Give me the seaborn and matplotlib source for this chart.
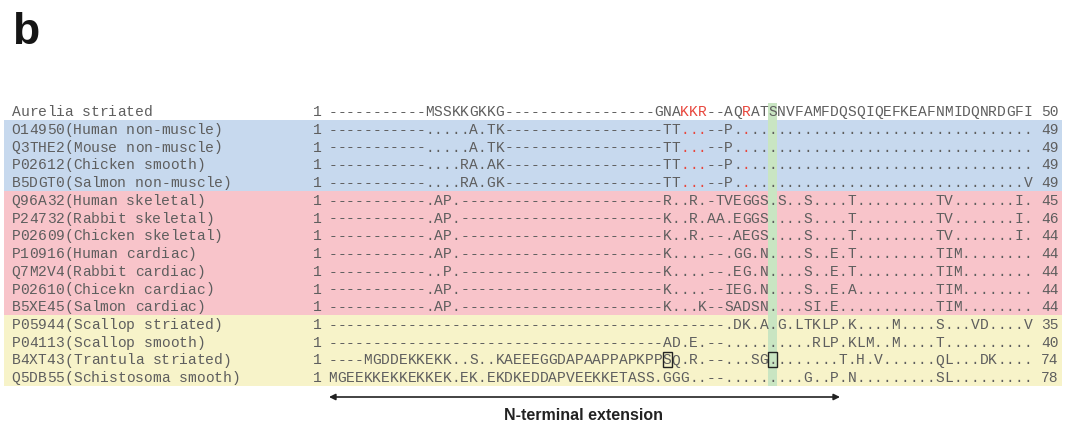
import matplotlib
matplotlib.use("Agg")
import matplotlib.pyplot as plt
import seaborn as sns

# ---------------- data ----------------
names = [
    "Aurelia striated",
    "O14950(Human non-muscle)",
    "Q3THE2(Mouse non-muscle)",
    "P02612(Chicken smooth)",
    "B5DGT0(Salmon non-muscle)",
    "Q96A32(Human skeletal)",
    "P24732(Rabbit skeletal)",
    "P02609(Chicken skeletal)",
    "P10916(Human cardiac)",
    "Q7M2V4(Rabbit cardiac)",
    "P02610(Chicekn cardiac)",
    "B5XE45(Salmon cardiac)",
    "P05944(Scallop striated)",
    "P04113(Scallop smooth)",
    "B4XT43(Trantula striated)",
    "Q5DB55(Schistosoma smooth)",
]

seqs = [
    "-" * 11 + "MSSKKGKKG" + "-" * 17 + "GNAKKR" + "--" + "AQRATSNVFAMFDQSQIQEFKEAFNMIDQNRDGFI",
    "-" * 11 + ".....A.TK" + "-" * 18 + "TT..." + "--" + "P" + "." * 34,
    "-" * 11 + ".....A.TK" + "-" * 18 + "TT..." + "--" + "P" + "." * 34,
    "-" * 11 + "....RA.AK" + "-" * 18 + "TT..." + "--" + "P" + "." * 34,
    "-" * 11 + "....RA.GK" + "-" * 18 + "TT..." + "--" + "P" + "." * 33 + "V",
    "-" * 11 + ".AP." + "-" * 23 + "R..R." + "-TVEGGS" + ".S..S....T.........TV.......I.",
    "-" * 11 + ".AP." + "-" * 23 + "K..R." + "AA.EGGS" + "....S....T.........TV.......I.",
    "-" * 11 + ".AP." + "-" * 23 + "K..R." + "--.AEGS" + "....S....T.........TV.......I.",
    "-" * 11 + ".AP." + "-" * 23 + "K...." + "--.GG.N" + "....S..E.T.........TIM........",
    "-" * 11 + "..P." + "-" * 23 + "K...." + "--.EG.N" + "....S..E.T.........TIM........",
    "-" * 11 + ".AP." + "-" * 23 + "K...." + "--IEG.N" + "....S..E.A.........TIM........",
    "-" * 11 + ".AP." + "-" * 23 + "K...K" + "--SADSN" + "....SI.E...........TIM........",
    "-" * 45 + ".DK.A.G.LTKLP.K....M....S...VD....V",
    "-" * 38 + "AD.E." + "--" + "." * 10 + "RLP.KLM..M" + "....T" + "." * 10,
    "----MGDDEKKEKK..S..KAEEEGGDAPAAPPAPKPPSQ.R.--...SG" + "........T.H.V......QL...DK....",
    "MGEEKKEKKEKKEK.EK.EKDKEDDAPVEEKKETASS.GGG..--" + "......" + "...G..P.N" + "." * 9 + "SL" + "." * 9,
]

start_pos = [1] * 16
end_pos = [50, 49, 49, 49, 49, 45, 46, 44, 44, 44, 44, 44, 35, 40, 74, 78]
groups = ["ref"] + ["nonmuscle"] * 4 + ["vertebrate"] * 7 + ["invertebrate"] * 4

red_rows = [0, 1, 2, 3, 4]
red_cols = [40, 41, 42, 47]
highlight_col = 50
boxed = [(14, 38), (14, 50)]

# ---------------- style ----------------
sns.set_theme(style="white")
plt.rcParams["font.family"] = ["Liberation Mono", "DejaVu Sans Mono"]

band_colors = {"ref": None, "nonmuscle": "#c7d9ee", "vertebrate": "#f8c4ca",
               "invertebrate": "#f7f3c9"}
text_color = "#5e5e5e"
red_color = "#e8463c"
green_color = "#c9e5c2"

W, H = 1077, 428
fig = plt.figure(figsize=(W / 100, H / 100), dpi=100)
ax = fig.add_axes([0, 0, 1, 1])
ax.set_xlim(0, W)
ax.set_ylim(H, 0)
ax.axis("off")

# layout
x0 = 328.3        # left edge of alignment column 0
cw = 8.8          # column width
name_x = 11.5
y0 = 111.0        # centre of first row
rh = 17.75        # row height
fs = 10.56        # pt -> 8.8 px advance for mono font
band_left, band_right = 4, 1062

def ycen(i):
    return y0 + i * rh

# background bands
for i, g in enumerate(groups):
    c = band_colors[g]
    if c:
        ax.add_patch(plt.Rectangle((band_left, ycen(i) - rh / 2), band_right - band_left, rh,
                                   facecolor=c, edgecolor="none", zorder=0))

# highlighted column
ax.add_patch(plt.Rectangle((x0 + highlight_col * cw, ycen(0) - rh / 2 + 0.5), cw,
                           rh * len(seqs) - 0.5, facecolor=green_color, edgecolor="none", zorder=1))

# text
for i, (nm, s) in enumerate(zip(names, seqs)):
    yb = ycen(i) + 5.0
    for k, ch in enumerate(nm):
        ax.text(name_x + (k + 0.5) * cw, yb, ch, ha="center", va="baseline",
                fontsize=fs, color=text_color, zorder=3)
    ax.text(317.5, yb, str(start_pos[i]), ha="center", va="baseline",
            fontsize=fs, color=text_color, zorder=3)
    for c, ch in enumerate(s):
        col = red_color if (i in red_rows and c in red_cols) else text_color
        ax.text(x0 + (c + 0.5) * cw, yb, ch, ha="center", va="baseline",
                fontsize=fs, color=col, zorder=3)
    ax.text(1058.8, yb, str(end_pos[i]), ha="right", va="baseline",
            fontsize=fs, color=text_color, zorder=3)

# boxes
for (r, c) in boxed:
    ax.add_patch(plt.Rectangle((x0 + c * cw, ycen(r) - 7.5), cw, 15,
                               facecolor="none", edgecolor="#222222", linewidth=1.0, zorder=4))

# arrow and label
ax.annotate("", xy=(329, 397), xytext=(840, 397),
            arrowprops=dict(arrowstyle="<|-|>", color="#222222", lw=1.2,
                            mutation_scale=9, shrinkA=0, shrinkB=0))
ax.text(584, 416, "N-terminal extension", ha="center", va="center",
        fontsize=11.5, fontweight="bold", color="#222222",
        family=["Liberation Sans", "DejaVu Sans"])

ax.text(12, 44, "b", ha="left", va="baseline", fontsize=32, fontweight="bold",
        color="#151515", family=["Liberation Sans", "DejaVu Sans"])

sns.despine(ax=ax, left=True, bottom=True)
fig.savefig("out.png", dpi=100)
